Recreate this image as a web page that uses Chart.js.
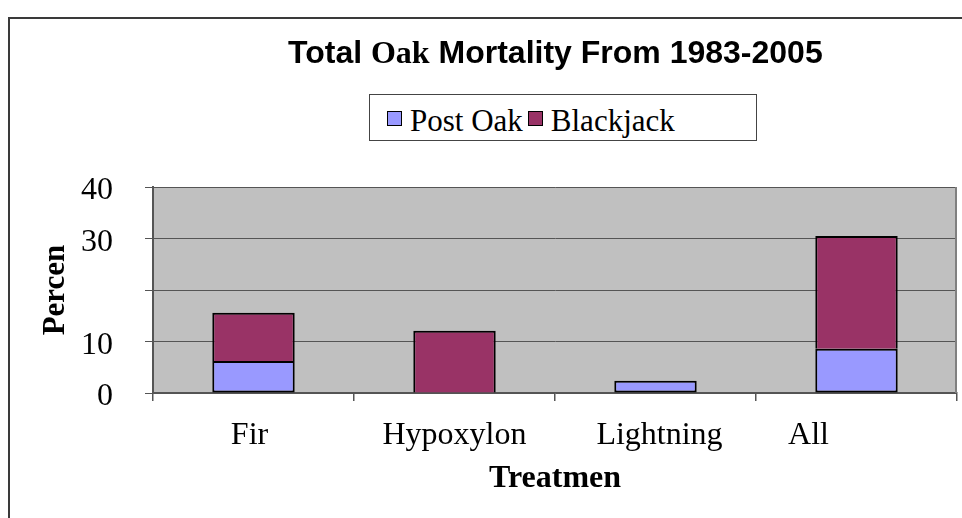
<!DOCTYPE html>
<html>
<head>
<meta charset="utf-8">
<script src="https://cdn.jsdelivr.net/npm/chart.js@4.4.1/dist/chart.umd.min.js"></script>
<style>
  html, body { margin: 0; padding: 0; background: #fff; }
  #wrap { position: relative; width: 962px; height: 518px; overflow: hidden; background: #fff; }
  #frame { position: absolute; left: 8px; top: 17px; width: 1000px; height: 600px; border: 2px solid #3a3a3a; box-sizing: border-box; }
  #c { position: absolute; left: 0; top: 0; }
  #title { position: absolute; left: 288px; top: 36px; font-family: 'Liberation Sans', Arial, sans-serif; font-weight: bold; font-size: 32px; line-height: 32px; white-space: nowrap; color: #000; }
  #title .serif { font-family: 'Liberation Serif', 'Times New Roman', serif; }
  #legend { position: absolute; left: 369px; top: 94px; width: 388px; height: 47px; border: 1px solid #444; box-sizing: border-box;
            font-family: 'Liberation Serif', 'Times New Roman', serif; font-size: 31px; font-weight: normal; line-height: 42px;
            padding-top: 4.5px; padding-left: 17px; white-space: nowrap; color: #000; background: #fff; }
  #legend span { font-family: 'Liberation Serif', 'Times New Roman', serif; }
  #legend .sw { display: inline-block; width: 15px; height: 15px; border: 1.5px solid #000; box-sizing: border-box; vertical-align: 5px; }
</style>
</head>
<body>
<div id="wrap">
  <div id="frame"></div>
  <canvas id="c" width="962" height="518"></canvas>
  <div id="title">Total <span class="serif">Oak</span> Mortality From 1983-2005</div>
  <div id="legend"></div>
</div>
<script>
const categories = ['Fir', 'Hypoxylon', 'Lightning', 'All'];
const seriesNames = ['Post Oak', 'Blackjack'];
const seriesColors = ['#9999FF', '#993366'];
const postOak = [6.2, 0, 2.4, 8.6];
const blackjack = [9.4, 12.1, 0, 21.9];
const yTickLabels = ['0', '10', '', '30', '40'];
const xTitle = 'Treatmen';
const yTitle = 'Percen';
// trailing blank padding of each category label (the original's labels sit left of centre)
const xLabelTrail = [1, 0, 0, 12];
const xLabelLead = [0, 0, 1, 0];

// HTML legend built from series
const legend = document.getElementById('legend');
seriesNames.forEach((name, i) => {
  const sw = document.createElement('span');
  sw.className = 'sw';
  sw.style.background = seriesColors[i];
  sw.style.marginRight = '8px';
  sw.style.marginLeft = i === 0 ? '0px' : '5px';
  legend.appendChild(sw);
  const t = document.createElement('span');
  t.textContent = name;
  legend.appendChild(t);
});

const plotBg = {
  id: 'plotBg',
  beforeDraw(chart) {
    const { ctx, chartArea: a } = chart;
    ctx.save();
    ctx.fillStyle = '#C0C0C0';
    ctx.fillRect(a.left, a.top, a.right - a.left, a.bottom - a.top);
    ctx.restore();
  },
  afterDraw(chart) {
    const { ctx, chartArea: a } = chart;
    ctx.save();
    ctx.strokeStyle = '#808080';
    ctx.lineWidth = 2;
    ctx.beginPath();
    ctx.moveTo(a.right - 1, a.top);
    ctx.lineTo(a.right - 1, a.bottom);
    ctx.stroke();
    ctx.restore();
  }
};

Chart.defaults.color = '#000';
const serif = "'Liberation Serif', 'Times New Roman', serif";
const nb = '\u00A0';

new Chart(document.getElementById('c'), {
  type: 'bar',
  data: {
    labels: categories,
    datasets: [
      { label: seriesNames[0], data: postOak, backgroundColor: seriesColors[0], borderColor: '#000',
        borderWidth: c => (c.raw ? 2 : 0), borderSkipped: false },
      { label: seriesNames[1], data: blackjack, backgroundColor: seriesColors[1], borderColor: '#000',
        borderWidth: c => (c.raw ? 2 : 0), borderSkipped: 'start' }
    ]
  },
  options: {
    responsive: false,
    animation: false,
    layout: { padding: { left: 30, top: 187, right: 5, bottom: 0 } },
    plugins: { legend: { display: false }, title: { display: false }, tooltip: { enabled: false } },
    datasets: { bar: { categoryPercentage: 1, barPercentage: 0.41 } },
    scales: {
      x: {
        stacked: true,
        afterFit: s => { s.height = 125; },
        grid: { drawOnChartArea: false, drawTicks: true, tickLength: 8, color: '#555', lineWidth: 1.5, offset: true },
        border: { display: true, color: '#555', width: 1.5 },
        ticks: { font: { family: serif, size: 32 }, padding: 15, autoSkip: false, maxRotation: 0, color: '#000',
                 callback: (v, i) => nb.repeat(xLabelLead[i]) + categories[i] + nb.repeat(xLabelTrail[i]) },
        title: { display: true, text: xTitle, font: { family: serif, size: 32, weight: 'bold' }, padding: { top: 0, bottom: 20 }, color: '#000' }
      },
      y: {
        stacked: true,
        min: 0, max: 40,
        afterFit: s => { s.width = 123; },
        grid: { color: '#555', lineWidth: 1, tickLength: 8, drawTicks: true },
        border: { display: true, color: '#555', width: 2 },
        ticks: { stepSize: 10, font: { family: serif, size: 32 }, padding: 32, labelOffset: 4, color: '#000',
                 callback: (v, i) => yTickLabels[i] },
        title: { display: true, text: yTitle, font: { family: serif, size: 31, weight: 'bold' }, padding: { top: 7.4, bottom: 0 }, color: '#000' }
      }
    }
  },
  plugins: [plotBg]
});
</script>
</body>
</html>
